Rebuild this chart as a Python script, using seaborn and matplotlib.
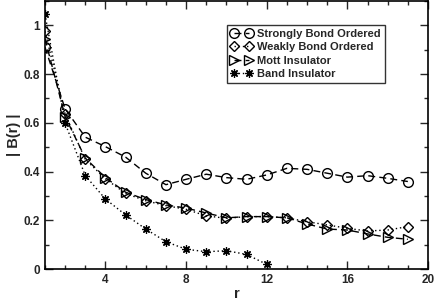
import numpy as np
import pandas as pd
import matplotlib
matplotlib.use('Agg')
import matplotlib.pyplot as plt
import seaborn as sns
from matplotlib.ticker import MultipleLocator

sns.set_style('ticks')
plt.rcParams['font.family'] = ['Liberation Sans', 'DejaVu Sans']
plt.rcParams['font.weight'] = 'bold'

# distances r
r_all = list(range(1, 20))
r_band = list(range(1, 13))

strong = [0.91, 0.657, 0.541, 0.502, 0.459, 0.393, 0.346, 0.368, 0.389, 0.375,
          0.368, 0.386, 0.413, 0.409, 0.393, 0.377, 0.383, 0.372, 0.359]
weak = [0.975, 0.635, 0.45, 0.37, 0.31, 0.28, 0.26, 0.245, 0.218, 0.208,
        0.215, 0.215, 0.21, 0.194, 0.181, 0.167, 0.156, 0.160, 0.174]
mott = [0.945, 0.625, 0.455, 0.375, 0.315, 0.285, 0.263, 0.25, 0.23, 0.21,
        0.215, 0.215, 0.21, 0.185, 0.164, 0.160, 0.144, 0.130, 0.122]
band = [1.045, 0.598, 0.383, 0.287, 0.222, 0.164, 0.112, 0.081, 0.071, 0.075,
        0.060, 0.019]

labels = ['Strongly Bond Ordered', 'Weakly Bond Ordered', 'Mott Insulator', 'Band Insulator']

fig = plt.figure(figsize=(4.35, 3.05), dpi=100)
ax = fig.add_axes([0.1034, 0.118, 0.8805, 0.879])

sns.lineplot(x=r_all, y=strong, ax=ax, color='black', linestyle=(0, (5, 3)), lw=1,
             marker='o', ms=7, mfc='none', mec='black', mew=1, label=labels[0])
sns.lineplot(x=r_all, y=weak, ax=ax, color='black', linestyle=(0, (1, 2)), lw=1,
             marker='D', ms=5.5, mfc='none', mec='black', mew=1, label=labels[1])
sns.lineplot(x=r_all, y=mott, ax=ax, color='black', linestyle=(0, (5, 3)), lw=1,
             marker='>', ms=7, mfc='none', mec='black', mew=1, label=labels[2])
sns.lineplot(x=r_band, y=band, ax=ax, color='black', linestyle=(0, (1, 2)), lw=1,
             marker=(8, 2, 0), ms=6, mfc='none', mec='black', mew=0.9, label=labels[3])

ax.set_xlim(1, 20)
ax.set_ylim(0, 1.1)
ax.set_xticks([4, 8, 12, 16, 20])
ax.xaxis.set_minor_locator(MultipleLocator(1))
ax.set_yticks([0, 0.2, 0.4, 0.6, 0.8, 1.0])
ax.set_yticklabels(['0', '0.2', '0.4', '0.6', '0.8', '1'])
ax.yaxis.set_minor_locator(MultipleLocator(0.1))
ax.tick_params(which='both', direction='in', top=True, right=True, labelsize=8.5, width=1)
ax.tick_params(which='major', length=6)
ax.tick_params(which='minor', length=3)
for lab in ax.get_xticklabels() + ax.get_yticklabels():
    lab.set_fontweight('bold')
for sp in ax.spines.values():
    sp.set_linewidth(1.2)
    sp.set_color('black')

ax.set_xlabel('r', fontsize=10.5, fontweight='bold', labelpad=1)
ax.set_ylabel('| B(r) |', fontsize=10.5, fontweight='bold', labelpad=2)

leg = ax.legend(loc='upper left', bbox_to_anchor=(0.474, 0.91), borderaxespad=0,
                numpoints=2, handlelength=2.0, frameon=True, fancybox=False,
                prop={'weight': 'bold', 'size': 8}, labelspacing=0.3, handletextpad=0.4,
                borderpad=0.35)
leg.get_frame().set_edgecolor('black')
leg.get_frame().set_linewidth(1)

fig.savefig('out.png', dpi=100)
